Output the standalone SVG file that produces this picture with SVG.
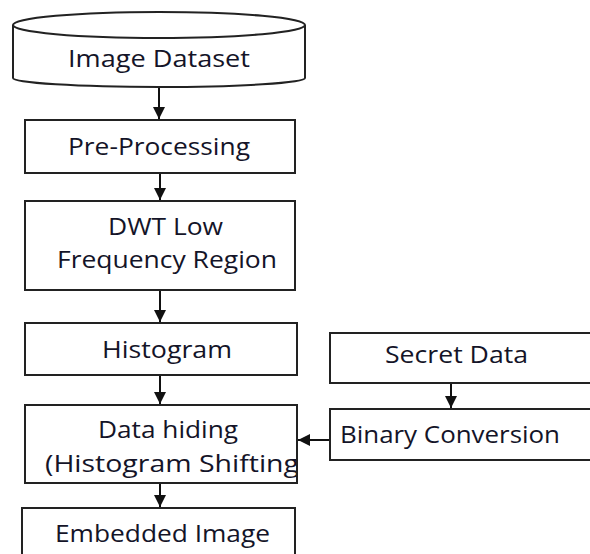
<svg xmlns="http://www.w3.org/2000/svg" width="590" height="554" viewBox="0 0 590 554">
<style>
.box{fill:#fff;stroke:#222;stroke-width:2}
.t{font-family:"Open Sans","Liberation Sans",sans-serif;font-size:24px;fill:#141428}
.c{stroke:#111;stroke-width:2;fill:none}
</style>
<defs>
<marker id="ah" viewBox="0 0 12 12" refX="12" refY="6" markerWidth="12" markerHeight="12" markerUnits="userSpaceOnUse" orient="auto">
<path d="M0,0 L12,6 L0,12 z" fill="#111"/>
</marker>
<clipPath id="dhclip"><rect x="26" y="406" width="270" height="76"/></clipPath>
</defs>
<rect width="590" height="554" fill="#fff"/>
<g id="connectors">
<line class="c" x1="159" y1="87" x2="159" y2="119" marker-end="url(#ah)"/>
<line class="c" x1="160" y1="173" x2="160" y2="200" marker-end="url(#ah)"/>
<line class="c" x1="160" y1="290" x2="160" y2="322" marker-end="url(#ah)"/>
<line class="c" x1="160" y1="375" x2="160" y2="404" marker-end="url(#ah)"/>
<line class="c" x1="160" y1="483" x2="160" y2="507" marker-end="url(#ah)"/>
<line class="c" x1="451" y1="383" x2="451" y2="408" marker-end="url(#ah)"/>
<line class="c" x1="330" y1="440" x2="298" y2="440" marker-end="url(#ah)"/>
</g>
<g id="image-dataset">
<path class="box" d="M13,25 L13,78 A146,9 0 0 0 305,78 L305,25"/>
<ellipse class="box" cx="159" cy="25" rx="146" ry="13"/>
<text class="t" x="68" y="67" textLength="182" lengthAdjust="spacingAndGlyphs">Image Dataset</text>
</g>
<g id="pre-processing">
<rect class="box" x="25" y="120" width="270" height="53"/>
<text class="t" x="68" y="155" textLength="182" lengthAdjust="spacingAndGlyphs">Pre-Processing</text>
</g>
<g id="dwt">
<rect class="box" x="25" y="201" width="270" height="89"/>
<text class="t" x="108" y="235" textLength="115" lengthAdjust="spacingAndGlyphs">DWT Low</text>
<text class="t" x="57" y="268" textLength="220" lengthAdjust="spacingAndGlyphs">Frequency Region</text>
</g>
<g id="histogram">
<rect class="box" x="25" y="323" width="272" height="52"/>
<text class="t" x="102" y="358" textLength="130" lengthAdjust="spacingAndGlyphs">Histogram</text>
</g>
<g id="data-hiding">
<rect class="box" x="25" y="405" width="272" height="78"/>
<text class="t" x="98" y="438" textLength="140" lengthAdjust="spacingAndGlyphs">Data hiding</text>
<text class="t" x="45" y="472" textLength="254" lengthAdjust="spacingAndGlyphs" clip-path="url(#dhclip)">(Histogram Shifting</text>
</g>
<g id="embedded-image">
<rect class="box" x="22" y="508" width="273" height="60"/>
<text class="t" x="55" y="542" textLength="215" lengthAdjust="spacingAndGlyphs">Embedded Image</text>
</g>
<g id="secret-data">
<rect class="box" x="330" y="333" width="270" height="50"/>
<text class="t" x="385" y="363" textLength="143" lengthAdjust="spacingAndGlyphs">Secret Data</text>
</g>
<g id="binary-conversion">
<rect class="box" x="330" y="409" width="270" height="51"/>
<text class="t" x="340" y="443" textLength="220" lengthAdjust="spacingAndGlyphs">Binary Conversion</text>
</g>
</svg>
